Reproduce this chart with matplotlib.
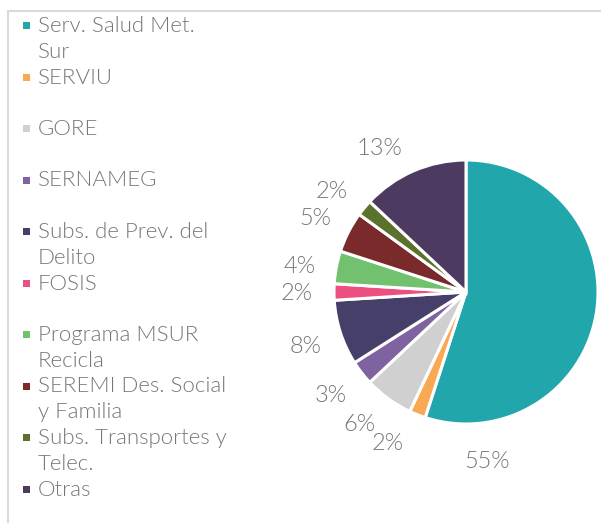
import numpy as np
import matplotlib.pyplot as plt
from matplotlib.patches import Rectangle

# === DATOS ===
etiquetas = ['Serv. Salud Met.\nSur', 'SERVIU', 'GORE', 'SERNAMEG',
             'Subs. de Prev. del\nDelito', 'FOSIS', 'Programa MSUR\nRecicla',
             'SEREMI Des. Social\ny Familia', 'Subs. Transportes y\nTelec.', 'Otras']
valores = [55, 2, 6, 3, 8, 2, 4, 5, 2, 13]
colores = ['#21A6AC', '#F9A953', '#D0D0D0', '#7F62A0', '#453F69',
           '#EC5080', '#72C16F', '#7A2A2A', '#5B722C', '#4D3A60']

# ajuste de angulo de cada etiqueta (grados), como lo acomoda Excel
ajuste_ang = [-73.8, -6, -3.3, -1, 0, 0, 1.5, 0.5, 2.3, 7.3]

GRIS = '#767676'
plt.rcParams['font.family'] = ['Lato', 'DejaVu Sans']
PESO = 300
TAM_LEY = 16
TAM_PCT = 17

W, H = 601, 523
fig = plt.figure(figsize=(W / 100, H / 100), dpi=100)

# borde del area del grafico (cortado)
fig.patches.append(Rectangle((8 / W, -0.1), 1.2, (H - 11) / H + 0.1,
                             transform=fig.transFigure, fill=False,
                             edgecolor='#D9D9D9', linewidth=1.5))

# === TORTA ===
cx, cy, R = 466, 292, 132
ax = fig.add_axes([(cx - R) / W, (H - cy - R) / H, 2 * R / W, 2 * R / H])
wedges, _ = ax.pie(valores, colors=colores, startangle=90, counterclock=False,
                   radius=1, wedgeprops=dict(edgecolor='white', linewidth=2.2))
ax.set_xlim(-1, 1)
ax.set_ylim(-1, 1)
ax.axis('off')

# etiquetas de porcentaje fuera de la torta
for w, v, da in zip(wedges, valores, ajuste_ang):
    ang = np.deg2rad((w.theta1 + w.theta2) / 2 + da)
    ax.text(1.28 * np.cos(ang), 1.28 * np.sin(ang), f'{v}%', ha='center',
            va='center_baseline', color=GRIS, fontsize=TAM_PCT,
            fontweight=PESO)

# === LEYENDA ===
paso = 25.75
for i, (lab, col) in enumerate(zip(etiquetas, colores)):
    base = 32 + 2 * i * paso
    fig.patches.append(Rectangle((23 / W, 1 - (base - 3) / H), 7 / W, 7 / H,
                                 transform=fig.transFigure, facecolor=col,
                                 edgecolor='none'))
    for k, linea in enumerate(lab.split('\n')):
        fig.text(38 / W, 1 - (base + k * paso) / H, linea, ha='left',
                 va='baseline', color=GRIS, fontsize=TAM_LEY, fontweight=PESO)

fig.savefig('out.png', dpi=100)
